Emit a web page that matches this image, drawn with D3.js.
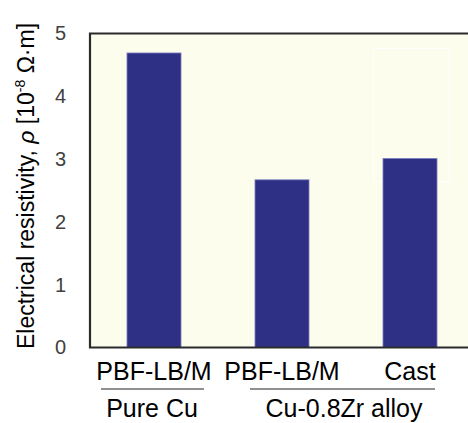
<!DOCTYPE html>
<html><head><meta charset="utf-8">
<script src="https://cdn.jsdelivr.net/npm/d3@7"></script>
<style>body{margin:0;background:#fff}svg{display:block}</style>
</head><body><div id="c"></div>
<script>
const categories = ["PBF-LB/M (Pure Cu)", "PBF-LB/M (Cu-0.8Zr)", "Cast (Cu-0.8Zr)"];
const tickLabels = ["PBF-LB/M", "PBF-LB/M", "Cast"];
const values = [4.69, 2.67, 3.01];
const groups = [
  {label: "Pure Cu", from: 0, to: 0},
  {label: "Cu-0.8Zr alloy", from: 1, to: 2}
];
const yTicks = [0, 1, 2, 3, 4, 5];

(function(){
const W = 468, H = 423;
const svg = d3.select("#c").append("svg").attr("width", W).attr("height", H);
const pLeft = 90, pTop = 33.5, pBottom = 347.5;
const FF = "Liberation Sans, Arial, sans-serif";

const x = d3.scaleBand().domain(categories).range([pLeft, pLeft + 384])
  .paddingInner(0.578).paddingOuter(0.289);
const y = d3.scaleLinear().domain([0, 5]).range([pBottom, pTop]);

// background
svg.append("rect").attr("x", pLeft).attr("y", pTop).attr("width", W - pLeft).attr("height", pBottom - pTop)
  .attr("fill", "#fcfdec");
// faint leftover legend box
svg.append("rect").attr("x", 373.5).attr("y", 48.5).attr("width", 75.5).attr("height", 133)
  .attr("fill", "none").attr("stroke", "#ffffff").attr("stroke-width", 1.2);

// bars
svg.selectAll("rect.bar").data(values).enter().append("rect").attr("class", "bar")
  .attr("x", (d, i) => x(categories[i]))
  .attr("width", x.bandwidth())
  .attr("y", d => y(d))
  .attr("height", d => y(0) - y(d))
  .attr("fill", "#2e3086")
  .attr("stroke", "#7d7fc0").attr("stroke-width", 0.8);

// frame lines
svg.append("path").attr("d", `M${W},${pTop}H${pLeft}V${pBottom}H${W}`)
  .attr("fill", "none").attr("stroke", "#2b2b2b").attr("stroke-width", 2.2);

// y axis tick labels
const yAxis = svg.append("g").attr("transform", `translate(${pLeft},0)`)
  .call(d3.axisLeft(y).tickValues(yTicks).tickSize(0).tickPadding(24).tickFormat(d3.format("d")));
yAxis.select(".domain").remove();
yAxis.selectAll("text").attr("font-family", FF)
  .attr("font-size", 20).attr("fill", "#404040");

// x axis labels
const xAxis = svg.append("g").attr("transform", `translate(0,${pBottom})`)
  .call(d3.axisBottom(x).tickSize(0).tickPadding(15).tickFormat((d, i) => tickLabels[i]));
xAxis.select(".domain").remove();
xAxis.selectAll("text").attr("font-family", FF)
  .attr("font-size", 25).attr("fill", "#000");

// group underlines and labels
const gLines = [[101, 204], [250, 435]];
const gCenters = [152, 344];
groups.forEach((g, i) => {
  svg.append("line").attr("x1", gLines[i][0]).attr("x2", gLines[i][1])
    .attr("y1", 389).attr("y2", 389).attr("stroke", "#222").attr("stroke-width", 1.2);
  svg.append("text").attr("x", gCenters[i]).attr("y", 417).attr("text-anchor", "middle")
    .attr("font-family", FF).attr("font-size", 25)
    .text(g.label);
});

// y title
const t = svg.append("text").attr("transform", "translate(34,186) rotate(-90)")
  .attr("text-anchor", "middle").attr("font-family", FF)
  .attr("font-size", 23).attr("fill", "#000");
t.append("tspan").text("Electrical resistivity, ");
t.append("tspan").attr("font-style", "italic").text("ρ");
t.append("tspan").text(" [10");
t.append("tspan").attr("font-size", 14).attr("dy", -9).text("-8");
t.append("tspan").attr("dy", 9).text(" Ω·m]");
})();
</script></body></html>
